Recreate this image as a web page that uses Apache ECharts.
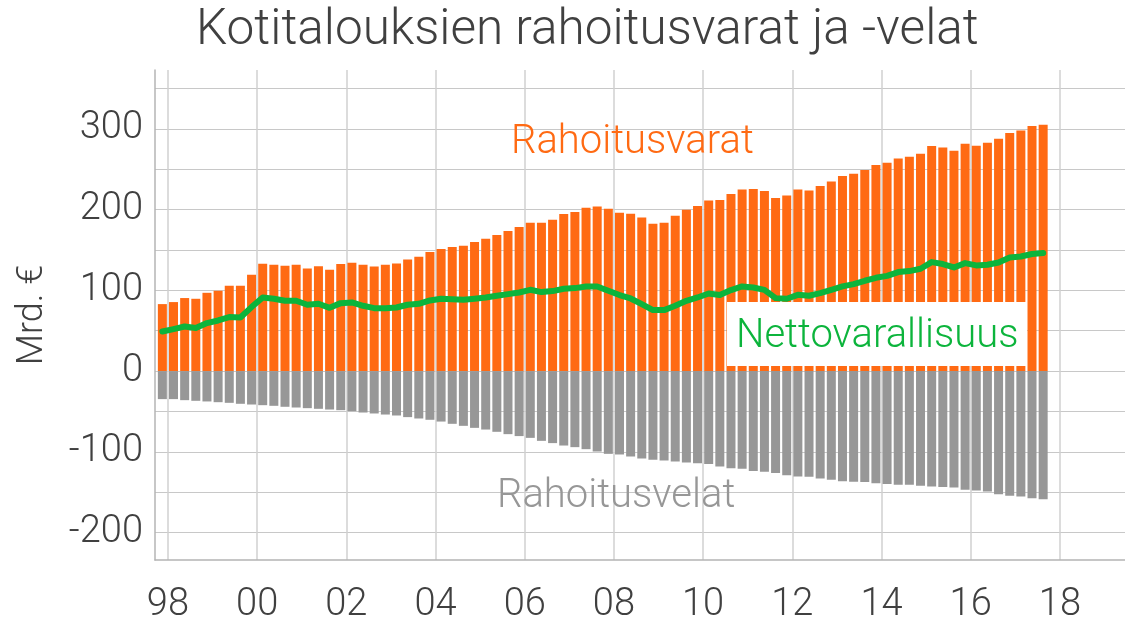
<!DOCTYPE html>
<html>
<head>
<meta charset="utf-8">
<script src="https://cdn.jsdelivr.net/npm/echarts@6/dist/echarts.min.js"></script>
<style>
  html, body { margin: 0; padding: 0; background: #fff; }
  #chart { width: 1125px; height: 619px; }
</style>
</head>
<body>
<div id="chart"></div>
<script>
// kvartaalit 1997Q4 - 2017Q3
const quarters = [];
for (let y = 1997; y <= 2017; y++) {
  for (let q = 1; q <= 4; q++) {
    if ((y === 1997 && q < 4) || (y === 2017 && q > 3)) continue;
    quarters.push(y + 'Q' + q);
  }
}

// rahoitusvarat, mrd. €
const assets = [
  83, 85.5, 90.5, 89.6, 97, 99.5, 105.7, 105.7, 119.3, 133,
  131.7, 130.5, 131.7, 127, 130, 125.5, 132.6, 134.2, 131.7, 129.6,
  131.7, 133.4, 138.3, 141.6, 147.4, 151.2, 153.6, 155.3, 159.8, 163.9,
  168.5, 173.5, 178.4, 183.8, 183.8, 187.5, 194.5, 197, 202.4, 204,
  201.1, 196.2, 195, 190.4, 182.5, 183.8, 192.4, 199.9, 204.4, 211.4,
  211.9, 219.3, 225, 225.5, 223, 214.3, 217.6, 225, 223.8, 229.2,
  235, 241.6, 244.5, 249, 255.2, 258.1, 263.5, 265.5, 269.3, 278.8,
  277.1, 273, 281.7, 279.2, 282.9, 287.9, 294.9, 298.2, 303.6, 305.2
];

// rahoitusvelat, mrd. €
const liabilities = [
  -34.7, -34.7, -36, -36.8, -37.6, -38.5, -39.3, -40.5, -41.4, -42.2,
  -43, -44.2, -45.1, -45.9, -46.7, -47.6, -48.4, -49.6, -51.3, -52.5,
  -53.8, -55, -57, -58.7, -60.3, -62.5, -65.3, -67.8, -70.3, -72.4,
  -75.2, -78.1, -80.5, -82.7, -86.4, -89.2, -92.2, -94.2, -96.7, -99.6,
  -102.5, -103.3, -105.8, -108.3, -109.9, -110.8, -112, -113.3, -114, -115.2,
  -118.2, -120.2, -121.1, -123.6, -124.8, -126.1, -128.9, -130.6, -131, -133.1,
  -134.7, -136.3, -137.2, -137.5, -138.8, -140, -140.9, -140.9, -142.1, -143,
  -143.7, -144.2, -147.1, -148, -149.2, -152.4, -154.5, -155.4, -157.4, -158.6
];

// nettovarallisuus, mrd. €
const netWorth = [
  49, 52, 55.3, 53.3, 59.5, 62.7, 66.9, 66.4, 79.3, 91.2,
  89.6, 87.1, 87.1, 82.2, 83.4, 78.4, 84.2, 85, 80.9, 78,
  78, 78.8, 82.2, 83.4, 87.5, 89.6, 89, 88.3, 89.6, 91.2,
  93.3, 95.4, 97.4, 100.7, 97.9, 99.1, 102, 102.8, 104.9, 104.9,
  99.5, 94.2, 90, 83, 75.6, 75.6, 80.9, 87.1, 91.2, 96.2,
  94.2, 100.4, 104.9, 103.6, 100.7, 90.4, 89.6, 94.5, 93.3, 96.6,
  100.7, 104.9, 107.8, 111.9, 115.6, 118, 122.7, 123.9, 126.8, 135,
  132.6, 128.4, 133.8, 130.9, 131.7, 134.6, 140.8, 142, 145, 146.2
];

const xTicks = [1998, 2000, 2002, 2004, 2006, 2008, 2010, 2012, 2014, 2016, 2018];
const xLabels = ['98', '00', '02', '04', '06', '08', '10', '12', '14', '16', '18'];
const yGrid = [-200, -150, -100, -50, 0, 50, 100, 150, 200, 250, 300, 350];
const yLabels = [-200, -100, 0, 100, 200, 300];

const FONT = 'Roboto, "DejaVu Sans", sans-serif';
const TEXT = '#404040';
const ORANGE = '#ff6a13';
const GREY = '#979797';
const GREEN = '#0cb43c';

// kvartaali -> vuosiakselin keskikohta
const qx = (s) => +s.slice(0, 4) + (+s.slice(5) - 0.5) / 4;
const pairs = (vals) => vals.map((v, i) => [qx(quarters[i]), v]);

const chartDom = document.getElementById('chart');
const chart = echarts.init(chartDom, null, {renderer: 'canvas'});

const options = {
  animation: false,
  textStyle: {fontFamily: FONT},
  title: {
    text: 'Kotitalouksien rahoitusvarat ja -velat',
    left: 191,
    top: 2,
    textStyle: {fontFamily: FONT, fontSize: 49.5, fontWeight: 300, color: TEXT},
  },
  grid: {left: 155, right: 0, top: 70, bottom: 59, containLabel: false, outerBoundsMode: 'none'},
  xAxis: {
    type: 'value',
    min: 1997.71,
    max: 2019.46,
    axisLine: {show: true, onZero: false, lineStyle: {color: '#b4b4b4', width: 1.5}},
    axisTick: {show: false, customValues: xTicks},
    axisLabel: {
      customValues: xTicks,
      formatter: (v) => xLabels[xTicks.indexOf(Math.round(v))],
      fontFamily: FONT, fontSize: 38, fontWeight: 300, color: TEXT, margin: 26,
    },
    splitLine: {show: true, lineStyle: {color: '#d0d0d0', width: 1.5}},
  },
  yAxis: {
    type: 'value',
    min: -234,
    max: 373,
    name: 'Mrd. €',
    nameLocation: 'middle',
    nameGap: 104,
    nameRotate: 90,
    nameTextStyle: {fontFamily: FONT, fontSize: 36, fontWeight: 300, color: TEXT},
    axisLine: {show: true, lineStyle: {color: '#b4b4b4', width: 1.5}},
    axisTick: {show: false, customValues: yGrid},
    axisLabel: {customValues: yLabels, fontFamily: FONT, fontSize: 38, fontWeight: 300, color: TEXT, margin: 12},
    splitLine: {show: true, lineStyle: {color: '#c8c8c8', width: 1}},
  },
  series: [
    {
      name: 'Rahoitusvarat',
      type: 'bar',
      stack: 'tase',
      barWidth: 9,
      itemStyle: {color: ORANGE},
      data: pairs(assets),
    },
    {
      name: 'Rahoitusvelat',
      type: 'bar',
      stack: 'tase',
      barWidth: 9,
      itemStyle: {color: GREY},
      data: pairs(liabilities),
    },
    {
      name: 'Nettovarallisuus',
      type: 'line',
      symbol: 'none',
      z: 5,
      lineStyle: {color: GREEN, width: 6, join: 'round', cap: 'round'},
      data: pairs(netWorth),
    },
  ],
  graphic: [
    {
      type: 'text', left: 511, top: 123, z: 10,
      style: {text: 'Rahoitusvarat', fill: ORANGE, font: '300 40px ' + FONT},
    },
    {
      type: 'text', left: 497, top: 477, z: 10,
      style: {text: 'Rahoitusvelat', fill: GREY, font: '300 40px ' + FONT},
    },
    {
      type: 'rect', left: 727, top: 302, z: 4,
      shape: {width: 300, height: 64},
      style: {fill: '#fff'},
    },
    {
      type: 'text', left: 736, top: 317, z: 10,
      style: {text: 'Nettovarallisuus', fill: GREEN, font: '300 40px ' + FONT},
    },
  ],
};

chart.setOption(options);
window.addEventListener('resize', chart.resize);
</script>
</body>
</html>
